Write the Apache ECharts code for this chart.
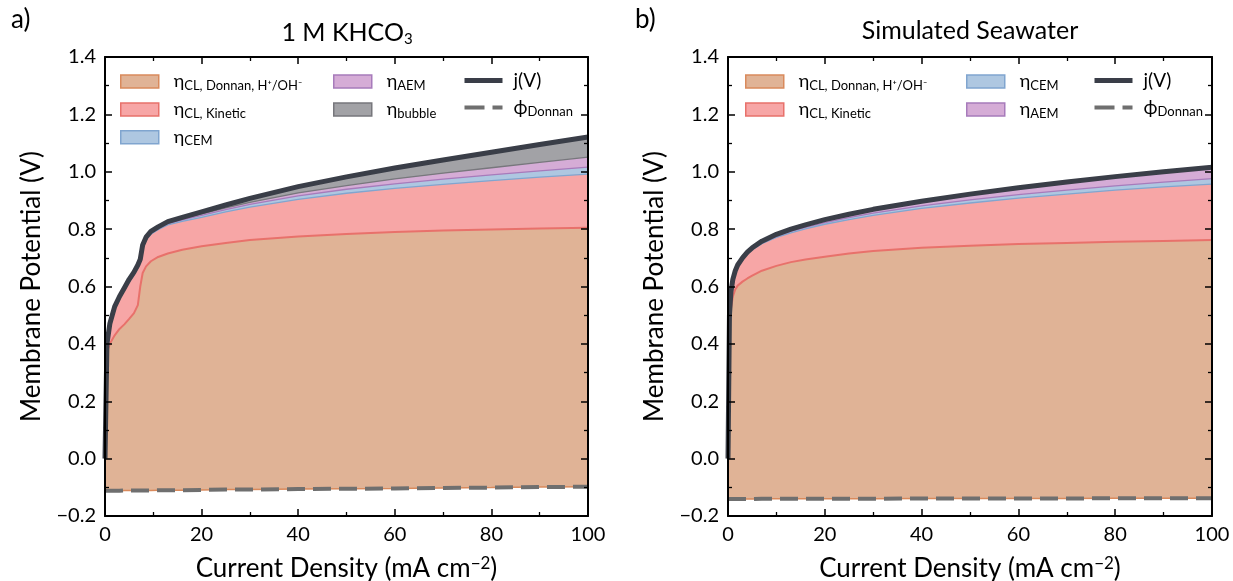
<!DOCTYPE html>
<html><head><meta charset="utf-8">
<script src="https://cdn.jsdelivr.net/npm/echarts@6/dist/echarts.min.js"></script>
<style>html,body{margin:0;padding:0;background:#fff}#c{width:1233px;height:581px}</style>
</head><body><div id="c"></div>
<script>
// ---------- Panel a) 1 M KHCO3 : boundary curves (V) ----------
const xA = [0, 0.4, 1, 2, 3, 4, 5, 6, 6.8, 7.3, 7.8, 8.5, 9.5, 11, 13, 16, 20, 25, 30, 40, 50, 60, 70, 80, 90, 100];
const phiA = [-0.112,-0.112,-0.112,-0.112,-0.112,-0.111,-0.111,-0.111,-0.111,-0.111,-0.111,-0.111,-0.111,-0.110,-0.110,-0.110,-0.109,-0.108,-0.108,-0.106,-0.105,-0.104,-0.102,-0.101,-0.099,-0.098];
const donnanTopA = [0.0, 0.37, 0.40, 0.43, 0.452, 0.468, 0.487, 0.507, 0.535, 0.60, 0.647, 0.670, 0.688, 0.703, 0.715, 0.728, 0.74, 0.752, 0.762, 0.774, 0.783, 0.79, 0.795, 0.799, 0.802, 0.805];
const kineticTopA = [0.0, 0.393, 0.461, 0.52, 0.555, 0.585, 0.615, 0.64, 0.665, 0.685, 0.735, 0.762, 0.782, 0.798, 0.815, 0.827, 0.841, 0.860, 0.877, 0.904, 0.925, 0.942, 0.956, 0.969, 0.981, 0.992];
const cemTopA = [0.0, 0.396, 0.465, 0.524, 0.559, 0.589, 0.619, 0.644, 0.669, 0.689, 0.739, 0.766, 0.786, 0.802, 0.819, 0.832, 0.848, 0.868, 0.886, 0.916, 0.939, 0.958, 0.974, 0.989, 1.003, 1.016];
const aemTopA = [0.0, 0.398, 0.468, 0.527, 0.562, 0.592, 0.622, 0.647, 0.672, 0.692, 0.742, 0.769, 0.789, 0.805, 0.822, 0.836, 0.853, 0.874, 0.893, 0.926, 0.952, 0.975, 0.995, 1.014, 1.033, 1.051];
const jA = [0.0, 0.40, 0.47, 0.53, 0.565, 0.595, 0.625, 0.65, 0.675, 0.695, 0.745, 0.772, 0.792, 0.808, 0.826, 0.841, 0.860, 0.884, 0.907, 0.948, 0.982, 1.013, 1.041, 1.068, 1.095, 1.121];

// ---------- Panel b) Simulated Seawater ----------
const xB = [0, 0.3, 0.6, 1, 1.5, 2, 3, 4, 5, 7, 10, 13, 16, 20, 25, 30, 40, 50, 60, 70, 80, 90, 100];
const phiB = [-0.141,-0.141,-0.141,-0.141,-0.141,-0.141,-0.141,-0.141,-0.141,-0.140,-0.140,-0.140,-0.140,-0.140,-0.140,-0.140,-0.139,-0.139,-0.139,-0.139,-0.138,-0.138,-0.138];
const donnanTopB = [0.0, 0.45, 0.52, 0.565, 0.59, 0.603, 0.617, 0.628, 0.638, 0.655, 0.672, 0.685, 0.694, 0.704, 0.715, 0.724, 0.735, 0.742, 0.748, 0.752, 0.756, 0.759, 0.762];
const kineticTopB = [0.0, 0.492, 0.572, 0.617, 0.647, 0.667, 0.692, 0.712, 0.727, 0.749, 0.771, 0.787, 0.801, 0.817, 0.833, 0.848, 0.872, 0.891, 0.908, 0.922, 0.936, 0.947, 0.957];
const cemTopB = [0.0, 0.495, 0.575, 0.62, 0.65, 0.67, 0.695, 0.715, 0.73, 0.752, 0.775, 0.792, 0.806, 0.823, 0.84, 0.856, 0.881, 0.902, 0.92, 0.936, 0.951, 0.964, 0.976];
const jB = [0.0, 0.50, 0.58, 0.625, 0.655, 0.675, 0.70, 0.72, 0.735, 0.758, 0.782, 0.80, 0.815, 0.833, 0.852, 0.869, 0.897, 0.922, 0.944, 0.964, 0.983, 1.0, 1.016];

// ---------- labels ----------
const titles = ['1 M KHCO{s|3}', 'Simulated Seawater'];
const panelTags = ['a)', 'b)'];
const xName = 'Current Density (mA cm{sup|−2})';
const yName = 'Membrane Potential (V)';
const legendText = {
  donnan: '{m|η}{s|CL, Donnan, H⁺/OH⁻}',
  kinetic: '{m|η}{s|CL, Kinetic}',
  cem: '{m|η}{s|CEM}',
  aem: '{m|η}{s|AEM}',
  bubble: '{m|η}{s|bubble}',
  j: '{j|j(V)}',
  phi: '{j|ϕ}{s|Donnan}'
};

const C = {
  donnan: {fill: '#e0b396', edge: '#d98a5c'},
  kinetic: {fill: '#f7a6a6', edge: '#e8716b'},
  cem: {fill: '#aec7e1', edge: '#80a5cf'},
  aem: {fill: '#d5acd6', edge: '#a77bbb'},
  bubble: {fill: '#a2a2a6', edge: '#77777c'},
  j: '#3a3e48',
  phi: '#6f6f6f'
};

const FONT = 'Lato';
const pairs = (xs, ys) => xs.map((x, i) => [x, ys[i]]);

// layers: listed from the top boundary downwards
function panelSeries(tag, gi, xs, phi, layers, j) {
  const out = [];
  const common = {type: 'line', xAxisIndex: gi, yAxisIndex: gi, symbol: 'none', silent: true, smooth: false};
  layers.forEach(L => {
    out.push(Object.assign({}, common, {
      name: tag + ':' + L.key, data: pairs(xs, L.top),
      lineStyle: {width: 0, opacity: 0},
      areaStyle: {color: C[L.key].fill, opacity: 1, origin: 'start'},
      itemStyle: {color: C[L.key].fill, borderColor: C[L.key].edge}, z: 2
    }));
  });
  out.push(Object.assign({}, common, {
    name: tag + ':below', data: pairs(xs, phi),
    lineStyle: {width: 0, opacity: 0},
    areaStyle: {color: '#ffffff', opacity: 1, origin: 'start'}, z: 2
  }));
  out.push(Object.assign({}, common, {
    name: tag + ':edge-phi', data: pairs(xs, phi),
    lineStyle: {color: C.donnan.edge, width: 1.5}, z: 3
  }));
  for (let k = layers.length - 1; k >= 0; k--) {
    const L = layers[k];
    if (!L.edge) continue;
    out.push(Object.assign({}, common, {
      name: tag + ':edge-' + L.key, data: pairs(xs, L.top),
      lineStyle: {color: L.edge, width: L.lw || 1.3}, z: 3
    }));
  }
  out.push(Object.assign({}, common, {
    name: tag + ':phi', data: pairs(xs, phi),
    lineStyle: {color: C.phi, width: 4, type: [18, 8]}, itemStyle: {color: C.phi}, z: 4
  }));
  out.push(Object.assign({}, common, {
    name: tag + ':j', data: pairs(xs, j),
    lineStyle: {color: C.j, width: 5, join: 'round'}, itemStyle: {color: C.j}, z: 5
  }));
  return out;
}

const seriesA = panelSeries('A', 0, xA, phiA, [
  {key: 'bubble', top: jA},
  {key: 'aem', top: aemTopA, edge: C.bubble.edge},
  {key: 'cem', top: cemTopA, edge: C.aem.edge},
  {key: 'kinetic', top: kineticTopA, edge: C.cem.edge},
  {key: 'donnan', top: donnanTopA, edge: C.kinetic.edge, lw: 2}
], jA);
const seriesB = panelSeries('B', 1, xB, phiB, [
  {key: 'aem', top: jB},
  {key: 'cem', top: cemTopB, edge: C.aem.edge},
  {key: 'kinetic', top: kineticTopB, edge: C.cem.edge},
  {key: 'donnan', top: donnanTopB, edge: C.kinetic.edge, lw: 2}
], jB);

const tickFmt = v => Math.abs(v) < 1e-9 ? '0.0' : v.toFixed(1).replace('-', '−');

function xAx(gi, top) {
  return {
    type: 'value', gridIndex: gi, min: 0, max: 100, interval: 20, position: top ? 'top' : 'bottom', z: 10,
    axisLine: {show: true, onZero: false, lineStyle: {color: '#000', width: 2}},
    axisTick: {show: true, inside: true, length: 7, lineStyle: {color: '#000', width: 1.5}},
    minorTick: {show: true, splitNumber: 2, length: 4, lineStyle: {color: '#000', width: 1.3}},
    splitLine: {show: false}, minorSplitLine: {show: false},
    axisLabel: {show: !top, fontFamily: FONT, fontSize: 20, color: '#000', margin: 9},
    name: top ? '' : xName, nameLocation: 'middle', nameGap: 38,
    nameTextStyle: {fontFamily: FONT, fontSize: 26, color: '#000', lineHeight: 30,
      rich: {sup: {fontFamily: FONT, fontSize: 17, lineHeight: 20, padding: [0, 0, 10, 0]}}}
  };
}
function yAx(gi, right) {
  return {
    type: 'value', gridIndex: gi, min: -0.2, max: 1.4, interval: 0.2, position: right ? 'right' : 'left', z: 10,
    axisLine: {show: true, onZero: false, lineStyle: {color: '#000', width: 2}},
    axisTick: {show: true, inside: true, length: 7, lineStyle: {color: '#000', width: 1.5}},
    minorTick: {show: true, splitNumber: 2, length: 4, lineStyle: {color: '#000', width: 1.3}},
    splitLine: {show: false}, minorSplitLine: {show: false},
    axisLabel: {show: !right, fontFamily: FONT, fontSize: 20, color: '#000', margin: 9, formatter: tickFmt},
    name: right ? '' : yName, nameLocation: 'middle', nameGap: 60,
    nameTextStyle: {fontFamily: FONT, fontSize: 26, color: '#000'}
  };
}

const legendRich = {
  m: {fontFamily: FONT, fontSize: 18, lineHeight: 24, padding: [0, 0, 0, 10]},
  j: {fontFamily: FONT, fontSize: 19, lineHeight: 24, padding: [0, 0, 0, 6]},
  s: {fontFamily: FONT, fontSize: 13, lineHeight: 16, padding: [8, 0, 0, 0]}
};
function areaItem(tag, key) {
  return {name: tag + ':' + key, icon: 'rect',
    itemStyle: {color: C[key].fill, borderColor: C[key].edge, borderWidth: 1.5, opacity: 1}};
}
function jItem(tag) {
  return {name: tag + ':j', itemStyle: {opacity: 0}, lineStyle: {color: C.j, width: 5, type: 'solid'}};
}
function phiItem(tag) {
  return {name: tag + ':phi', itemStyle: {opacity: 0}, lineStyle: {color: C.phi, width: 4, type: [20, 8]}};
}
function legend(left, data) {
  return {
    left, top: 71, orient: 'vertical', padding: 0, itemGap: 6.9, itemWidth: 38, itemHeight: 13,
    selectedMode: false, data,
    formatter: name => legendText[name.split(':')[1]],
    textStyle: {fontFamily: FONT, fontSize: 18, color: '#000', rich: legendRich}
  };
}

const titleStyle = {fontFamily: FONT, fontSize: 25, fontWeight: 'normal', color: '#000',
  rich: {s: {fontFamily: FONT, fontSize: 15, padding: [14, 0, 0, 0]}}};
const tagStyle = {fontFamily: FONT, fontSize: 26, fontWeight: 'normal', color: '#000'};

const option = {
  animation: false,
  backgroundColor: '#fff',
  title: [
    {text: panelTags[0], left: 11, top: 7, padding: 0, textStyle: tagStyle},
    {text: panelTags[1], left: 635, top: 7, padding: 0, textStyle: tagStyle},
    {text: titles[0], left: 347, top: 18, textAlign: 'center', padding: 0, textStyle: titleStyle},
    {text: titles[1], left: 970, top: 18, textAlign: 'center', padding: 0, textStyle: titleStyle}
  ],
  grid: [
    {left: 105, top: 57, width: 483, height: 459, outerBoundsMode: 'none', containLabel: false},
    {left: 728, top: 57, width: 484, height: 459, outerBoundsMode: 'none', containLabel: false}
  ],
  xAxis: [xAx(0, false), xAx(1, false), xAx(0, true), xAx(1, true)],
  yAxis: [yAx(0, false), yAx(1, false), yAx(0, true), yAx(1, true)],
  legend: [
    legend(120, [areaItem('A', 'donnan'), areaItem('A', 'kinetic'), areaItem('A', 'cem')]),
    legend(333, [areaItem('A', 'aem'), areaItem('A', 'bubble')]),
    legend(462, [jItem('A'), phiItem('A')]),
    legend(745, [areaItem('B', 'donnan'), areaItem('B', 'kinetic')]),
    legend(966, [areaItem('B', 'cem'), areaItem('B', 'aem')]),
    legend(1092, [jItem('B'), phiItem('B')])
  ],
  series: seriesA.concat(seriesB)
};

const chart = echarts.init(document.getElementById('c'), null, {renderer: 'canvas'});
chart.setOption(option);
</script>
</body></html>
